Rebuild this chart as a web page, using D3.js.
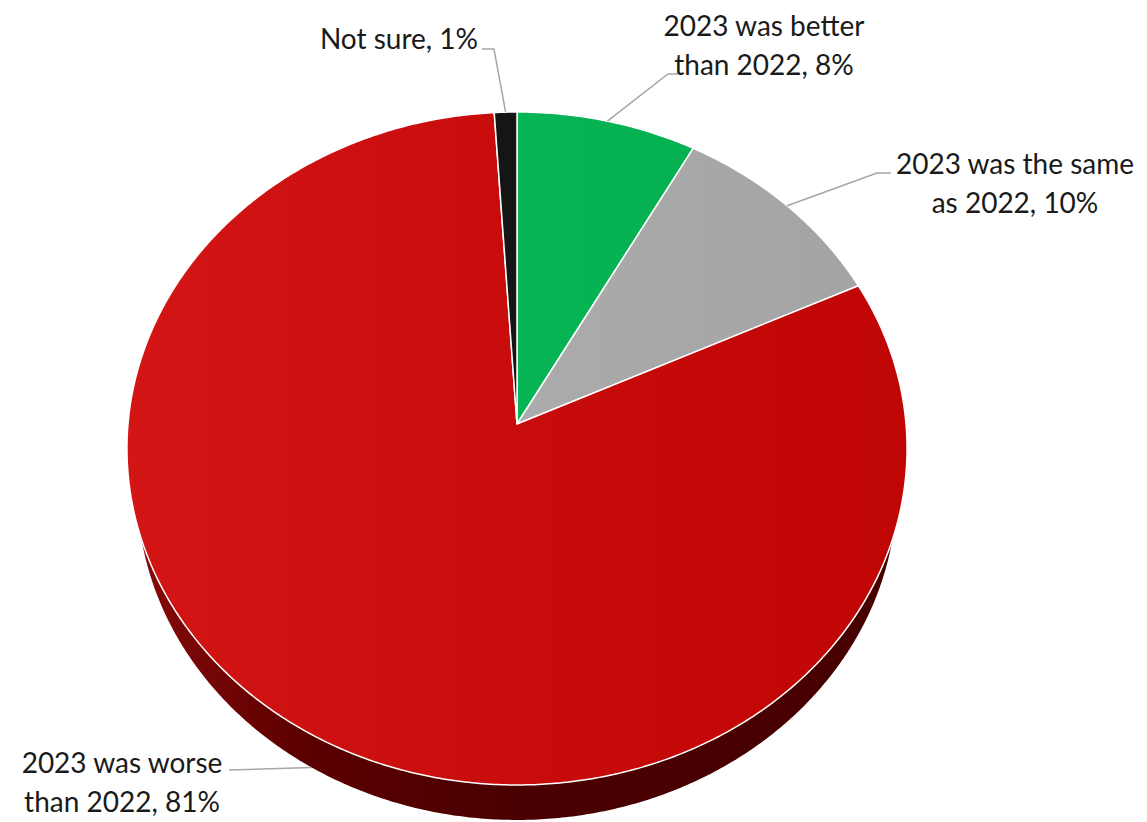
<!DOCTYPE html>
<html>
<head>
<meta charset="utf-8">
<script src="https://cdn.jsdelivr.net/npm/d3@7/dist/d3.min.js"></script>
<style>
  html, body { margin: 0; padding: 0; background: #ffffff; }
  svg { display: block; }
</style>
</head>
<body>
<script>
// ---- data ----
const categories = ["2023 was better than 2022", "2023 was the same as 2022", "2023 was worse than 2022", "Not sure"];
const values = [8, 10, 81, 1];
const labelLines = [
  ["2023 was better", "than 2022, 8%"],
  ["2023 was the same", "as 2022, 10%"],
  ["2023 was worse", "than 2022, 81%"],
  ["Not sure, 1%"]
];

// ---- styles / layout ----
const W = 1147, H = 822;
const faceFill = ["url(#gGreen)", "url(#gGray)", "url(#gRed)", "#151515"];
const wallFill = ["#03702f", "#6a6a6a", "url(#gWall)", "#050505"];
// label layout: text center x, first baseline, anchor, leader elbow points (label side), target ring
const labelLayout = [
  { x: 764, y: 36, anchor: "middle", leader: [[678, 74], [668, 74]], ring: "top" },
  { x: 1015, y: 174, anchor: "middle", leader: [[891, 173], [877, 173]], ring: "top" },
  { x: 122, y: 773, anchor: "middle", leader: [[229, 770]], ring: "bottom" },
  { x: 478, y: 49, anchor: "end", leader: [[482, 49], [494, 49]], ring: "top" }
];

// perspective projection of the tilted pie
const CX = 517, CY = 424, S = 389, SIN_T = 0.8604, K = 0.0728, E = 0.0267, DY = 43;
const rScale = d3.scaleLinear().domain([0, 1]).range([0, 1]);
function proj(a, r, bottom) {
  const rr = rScale(r);
  const u = rr * Math.sin(a), v = -rr * Math.cos(a);
  const zd = 1 - v * K + (bottom ? E : 0);
  return [CX + S * u / zd, CY + (S * SIN_T * v + (bottom ? DY : 0)) / zd];
}
function arcPts(a0, a1, bottom) {
  const n = Math.max(2, Math.ceil(Math.abs(a1 - a0) / (Math.PI / 360)));
  return d3.range(n + 1).map(i => proj(a0 + (a1 - a0) * i / n, 1, bottom));
}

const svg = d3.select("body").append("svg").attr("width", W).attr("height", H);
const defs = svg.append("defs");
function lin(id, stops, x1, x2) {
  const g = defs.append("linearGradient").attr("id", id)
    .attr("gradientUnits", "userSpaceOnUse")
    .attr("x1", x1).attr("y1", 0).attr("x2", x2).attr("y2", 0);
  stops.forEach(s => g.append("stop").attr("offset", s[0]).attr("stop-color", s[1]));
}
lin("gRed", [[0, "#d31515"], [0.45, "#c90c0c"], [1, "#c00505"]], 128, 908);
lin("gWall", [[0, "#8a0a0a"], [0.22, "#5c0000"], [0.5, "#4a0000"], [1, "#470000"]], 128, 908);
lin("gGreen", [[0, "#07b556"], [1, "#05b04f"]], 517, 700);
lin("gGray", [[0, "#ababab"], [1, "#a4a4a4"]], 520, 860);

const pie = d3.pie().sort(null).startAngle(0).endAngle(2 * Math.PI);
const arcs = pie(values);

const line = d3.line();

// walls (outer side)
svg.append("g").selectAll("path").data(arcs).join("path")
  .attr("d", d => line(arcPts(d.startAngle, d.endAngle, false).concat(arcPts(d.endAngle, d.startAngle, true))) + "Z")
  .attr("fill", (d, i) => wallFill[i]);

// top faces
svg.append("g").selectAll("path").data(arcs).join("path")
  .attr("d", d => line([[CX, CY]].concat(arcPts(d.startAngle, d.endAngle, false))) + "Z")
  .attr("fill", (d, i) => faceFill[i])
  .attr("stroke", "#ffffff")
  .attr("stroke-width", 1.5)
  .attr("stroke-linejoin", "round");

// leader lines
svg.append("g").selectAll("path").data(arcs).join("path")
  .attr("d", (d, i) => {
    const L = labelLayout[i];
    const mid = (d.startAngle + d.endAngle) / 2;
    const p = proj(mid, 1, L.ring === "bottom");
    return line(L.leader.concat([p]));
  })
  .attr("fill", "none")
  .attr("stroke", "#a6a6a6")
  .attr("stroke-width", 1.5);

// labels
const lab = svg.append("g")
  .attr("font-family", "Lato, 'Open Sans', sans-serif")
  .attr("font-size", 28)
  .attr("fill", "#1a1a1a");
labelLines.forEach((lines, i) => {
  const L = labelLayout[i];
  const t = lab.append("text").attr("text-anchor", L.anchor);
  lines.forEach((s, j) => {
    t.append("tspan").attr("x", L.x).attr("y", L.y + j * 39).text(s);
  });
});
</script>
</body>
</html>
